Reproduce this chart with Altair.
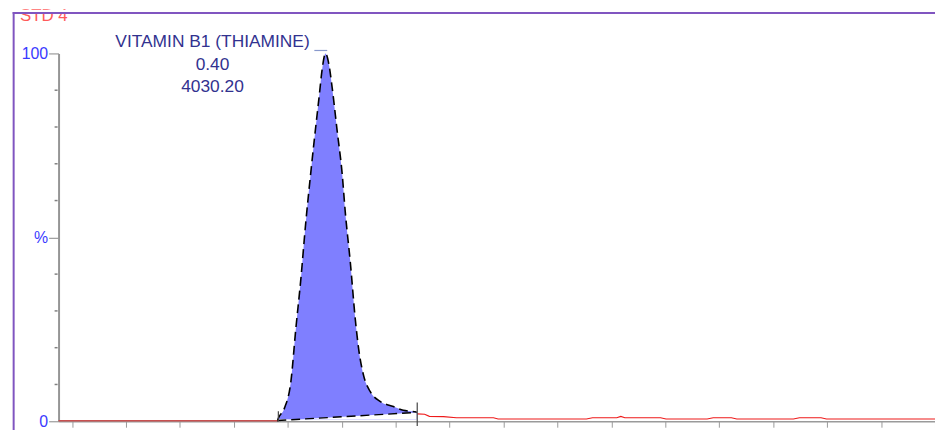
import altair as alt
import pandas as pd

# ---- data (time in min, response in %) ----
peak_time = [0.3245, 0.3260, 0.3349, 0.3446, 0.3519, 0.3593, 0.3666, 0.3740, 0.3813,
             0.3863, 0.3912, 0.3960, 0.4010, 0.4059, 0.4132, 0.4206, 0.4254, 0.4328,
             0.4401, 0.4451, 0.4525, 0.4622, 0.4769, 0.4966, 0.5113, 0.5235, 0.5310]
peak_resp = [0.0, 0.8, 3.5, 10.8, 25.1, 38.5, 53.9, 67.4, 79.8,
             87.9, 96.0, 100.0, 97.0, 90.6, 79.0, 67.4, 56.6, 43.1,
             27.8, 19.7, 12.4, 8.1, 5.4, 4.0, 3.0, 2.7, 2.5]

pre_time = [0.0, 0.3245]
pre_resp = [0.15, 0.15]

post_time = [0.532, 0.543, 0.550, 0.571, 0.590, 0.645, 0.652, 0.783, 0.792, 0.828,
             0.834, 0.840, 0.893, 0.901, 0.962, 0.971, 0.998, 1.006, 1.090, 1.099,
             1.131, 1.139, 1.300]
post_resp = [2.0, 1.9, 1.35, 1.27, 0.95, 0.95, 0.62, 0.62, 0.95, 0.95,
             1.3, 0.95, 0.95, 0.62, 0.62, 0.95, 0.95, 0.62, 0.62, 0.95,
             0.95, 0.62, 0.62]

base_time = [0.3245, 0.531]
base_resp = [0.2, 2.4]

marker_time = [0.326, 0.532]
marker_lo = [0.0, -1.3]
marker_hi = [2.7, 5.1]

peak_name = "VITAMIN B1 (THIAMINE)"
peak_rt = "0.40"
peak_area = "4030.20"
apex_time = 0.3960
apex_resp = 100.0

leader_time = [0.3794, 0.3985]
leader_resp = 100.8

sample_label = "STD 4"

y_major_values = [0, 50, 100]
y_major_labels = ["0", "%", "100"]
y_minor_values = [10, 20, 30, 40, 60, 70, 80, 90]
x_tick_values = [round(0.02 * i, 2) for i in range(1, 66)]

FONT = "Liberation Sans"
X_DOMAIN = [0.0, 1.3]

peak_df = pd.DataFrame({"t": peak_time, "r": peak_resp})
pre_df = pd.DataFrame({"t": pre_time, "r": pre_resp})
post_df = pd.DataFrame({"t": post_time, "r": post_resp})
base_df = pd.DataFrame({"t": base_time, "r": base_resp})
marker_df = pd.DataFrame({"t": marker_time, "lo": marker_lo, "hi": marker_hi})
ann_df = pd.DataFrame({"t": [apex_time], "r": [apex_resp],
                       "label": [peak_name + "\n" + peak_rt + "\n" + peak_area]})
leader_df = pd.DataFrame({"t": [leader_time[0]], "t2": [leader_time[1]], "r": [leader_resp]})
minor_df = pd.DataFrame({"r": y_minor_values})
one = pd.DataFrame({"k": [0]})

label_expr = " : ".join(
    f"datum.value == {v} ? '{lab}'" for v, lab in zip(y_major_values, y_major_labels)
) + " : ''"

xs = alt.Scale(domain=X_DOMAIN, nice=False, zero=False)
ys = alt.Scale(domain=[0, 100], nice=False)

x_axis = alt.Axis(values=x_tick_values, labels=False, title=None, grid=False,
                  domainColor="#9a9a9a", domainWidth=1.5, tickColor="#9a9a9a",
                  tickSize=6, tickWidth=1)
y_axis = alt.Axis(values=y_major_values, title=None, grid=False, labelOverlap=False,
                  labelExpr=label_expr,
                  labelColor="#3a3aff", labelFont=FONT, labelFontSize=16,
                  labelPadding=1, labelBaseline="middle",
                  domainColor="#959595", domainWidth=2, tickColor="#9a9a9a",
                  tickWidth=1.2, tickSize=10)

X = alt.X("t:Q", scale=xs, axis=x_axis)
Y = alt.Y("r:Q", scale=ys, axis=y_axis)

blue = alt.Chart(peak_df).mark_area(color="#7f7fff", interpolate="monotone").encode(
    x=X, y=Y, y2=alt.datum(0.5))

white = alt.Chart(base_df).mark_area(color="white").encode(
    x=alt.X("t:Q", scale=xs), y=alt.Y("r:Q", scale=ys), y2=alt.datum(0.5))

base_line = alt.Chart(base_df).mark_line(color="black", strokeWidth=1.4, strokeDash=[9, 5]).encode(
    x=alt.X("t:Q", scale=xs), y=alt.Y("r:Q", scale=ys))

curve = alt.Chart(peak_df).mark_line(color="black", strokeWidth=1.6, strokeDash=[9, 5],
                                      interpolate="monotone").encode(
    x=alt.X("t:Q", scale=xs), y=alt.Y("r:Q", scale=ys))

pre = alt.Chart(pre_df).mark_line(color="#c85050", strokeWidth=1.5).encode(
    x=alt.X("t:Q", scale=xs), y=alt.Y("r:Q", scale=ys))

post = alt.Chart(post_df).mark_line(color="#ee1a1a", strokeWidth=1.2).encode(
    x=alt.X("t:Q", scale=xs), y=alt.Y("r:Q", scale=ys))

markers = alt.Chart(marker_df).mark_rule(color="#444444", strokeWidth=1.2).encode(
    x=alt.X("t:Q", scale=xs), y=alt.Y("lo:Q", scale=ys), y2="hi:Q")

minor = alt.Chart(minor_df).mark_rule(color="#808080", strokeWidth=1.5).encode(
    x=alt.value(-4), x2=alt.value(-1), y=alt.Y("r:Q", scale=ys))

leader = alt.Chart(leader_df).mark_rule(color="#8899cc", strokeWidth=1.2).encode(
    x=alt.X("t:Q", scale=xs), x2="t2:Q", y=alt.Y("r:Q", scale=ys))

ann = alt.Chart(ann_df).mark_text(font=FONT, fontSize=17.5, color="#32328f", align="center",
                                  baseline="top", lineBreak="\n", lineHeight=22.5,
                                  dx=-114, dy=-20).encode(
    x=alt.X("t:Q", scale=xs), y=alt.Y("r:Q", scale=ys), text="label:N")

std = alt.Chart(one).mark_text(text=sample_label, font=FONT, fontSize=17, color="#ff5a5a",
                               align="left", baseline="alphabetic").encode(
    x=alt.value(-39), y=alt.value(-33))

cover = alt.Chart(one).mark_rect(color="white").encode(
    x=alt.value(-51), x2=alt.value(120), y=alt.value(-44), y2=alt.value(-41.5))

frame_top = alt.Chart(one).mark_rule(color="#8055c0", strokeWidth=2).encode(
    x=alt.value(-46.3), x2=alt.value(900), y=alt.value(-40.7))
frame_left = alt.Chart(one).mark_rule(color="#8055c0", strokeWidth=2).encode(
    x=alt.value(-45.3), y=alt.value(-41.7), y2=alt.value(420))

chart = alt.layer(
    blue, white, base_line, curve, pre, post, markers, minor, leader, ann,
    std, cover, frame_top, frame_left
).properties(
    width=884, height=371,
    autosize=alt.AutoSizeParams(type="none"),
    padding={"left": 51, "top": 44, "right": 0, "bottom": 7},
    background="white",
).configure_view(strokeWidth=0)

chart.save("out.html", embed_options={"renderer": "svg", "actions": False})
